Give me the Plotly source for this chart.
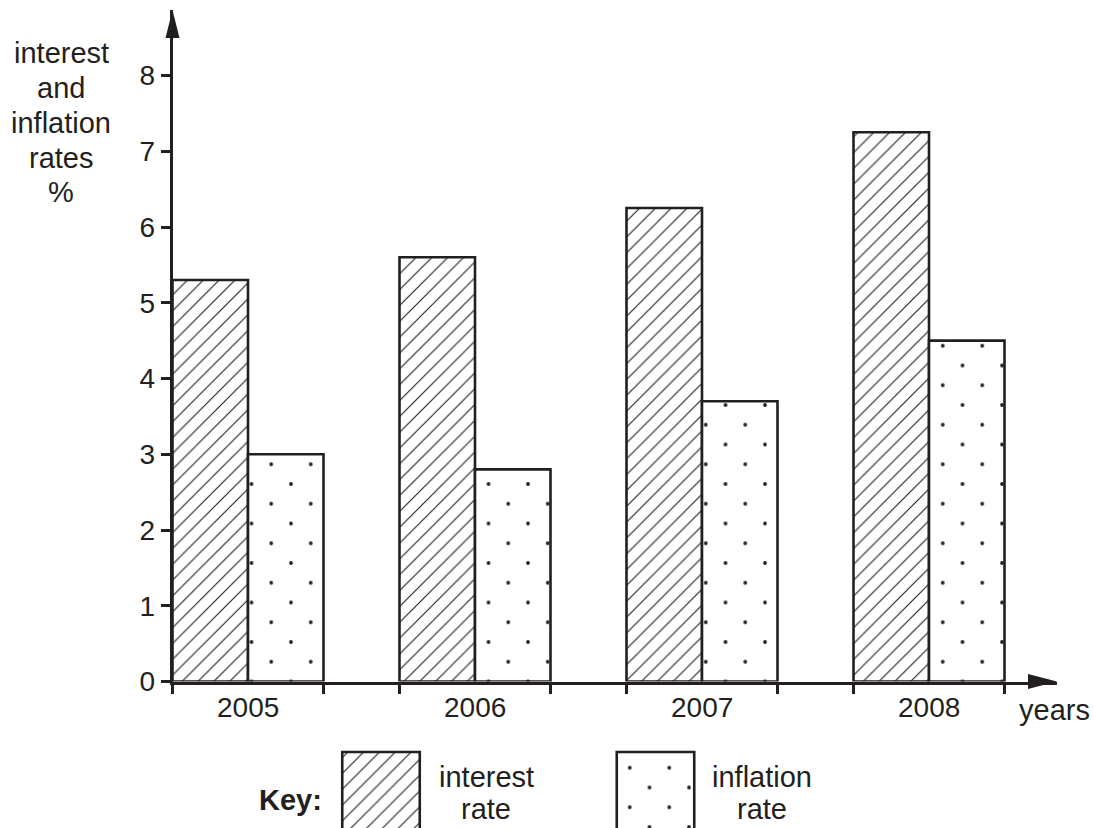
import plotly.graph_objects as go

# ---------------- data ----------------
years = [2005, 2006, 2007, 2008]
interest_rate = [5.3, 5.6, 6.25, 7.25]
inflation_rate = [3.0, 2.8, 3.7, 4.5]
y_ticks = [0, 1, 2, 3, 4, 5, 6, 7, 8]
key_height = [1]
key_labels = [["interest", "rate"], ["inflation", "rate"]]
y_title = ["interest", "and", "inflation", "rates", "%"]
x_title = "years"

# ---------------- style / geometry ----------------
# positions below are given in reference-picture pixels (1094 x 828);
# the page itself is 844 px tall because the photograph is squeezed to 828.
W, REF_H, PAGE_H = 1094, 828, 844
INK = "#231f20"
FONT = "Liberation Sans, Arial, Helvetica, sans-serif"
FS = 29        # words
FN = 28        # numbers
BW = 0.3326    # bar width in x units
LW = 2.6

def fx(p):
    return p / W

def fy(p):
    return 1 - p / REF_H

# main pixel mapping (reference pixels)
X0_V, X0_PX, X_K = years[0] - BW, 172.5, 227.0
Y0_V, Y0_PX, Y_K = 0.0, 681.5, 75.75
LEFT, RIGHT, TOP, BOTTOM = 172.5, 1057.0, 10.0, 681.5

def xr(pa, pb, v0, p0, k):
    return [v0 + (pa - p0) / k, v0 + (pb - p0) / k]

def yr(pt, pb, v0, p0, k):
    return [v0 - (pb - p0) / k, v0 - (pt - p0) / k]

DOT = 39.5
SH = DOT / 2
hatch = dict(shape="/", size=11.2, solidity=0.1, fgcolor=INK, bgcolor="white", fillmode="replace")
dots_a = dict(shape=".", size=DOT, solidity=0.007, fgcolor=INK, bgcolor="white", fillmode="replace")
dots_b = dict(shape=".", size=DOT, solidity=0.007, fgcolor=INK, bgcolor="rgba(0,0,0,0)", fillmode="replace")
outline = dict(color=INK, width=LW)
noline = dict(color="rgba(0,0,0,0)", width=0)

fig = go.Figure()

# main bars
fig.add_trace(go.Bar(x=years, y=interest_rate, width=BW, offset=-BW,
                     marker=dict(color="white", pattern=hatch, line=outline),
                     xaxis="x", yaxis="y", showlegend=False, hoverinfo="skip"))
fig.add_trace(go.Bar(x=years, y=inflation_rate, width=BW, offset=0,
                     marker=dict(color="white", pattern=dots_a, line=outline),
                     xaxis="x", yaxis="y", showlegend=False, hoverinfo="skip"))
# second, staggered dot grid (same bars drawn in an offset subplot)
fig.add_trace(go.Bar(x=years, y=inflation_rate, width=BW, offset=0,
                     marker=dict(color="rgba(0,0,0,0)", pattern=dots_b, line=noline),
                     xaxis="x3", yaxis="y3", showlegend=False, hoverinfo="skip"))

# key swatches
fig.add_trace(go.Bar(x=[0], y=key_height, width=1,
                     marker=dict(color="white", pattern=hatch, line=outline),
                     xaxis="x4", yaxis="y4", showlegend=False, hoverinfo="skip"))
fig.add_trace(go.Bar(x=[0], y=key_height, width=1,
                     marker=dict(color="white", pattern=dots_a, line=outline),
                     xaxis="x5", yaxis="y5", showlegend=False, hoverinfo="skip"))
fig.add_trace(go.Bar(x=[0], y=key_height, width=1,
                     marker=dict(color="rgba(0,0,0,0)", pattern=dots_b, line=noline),
                     xaxis="x6", yaxis="y6", showlegend=False, hoverinfo="skip"))

tickfont = dict(family=FONT, size=FN, color=INK)
hidden = dict(visible=False, showgrid=False, zeroline=False, fixedrange=True)

main_xrange = xr(LEFT, RIGHT, X0_V, X0_PX, X_K)
edges = [y - BW for y in years] + [y + BW for y in years]

# key mapping
KW, KH = 77.5, 80.0
K_TOP = 752.0
def key_axes(cx, pl, pr, pt, pb):
    xa = dict(hidden, domain=[fx(pl), fx(pr)], range=xr(pl, pr, 0.0, cx, KW))
    ya = dict(hidden, domain=[fy(pb), fy(pt)], range=yr(pt, pb, 0.0, K_TOP + KH, KH))
    return xa, ya

k1x, k1y = key_axes(381.0, 336.0, 426.0, 748.0, REF_H)
k2x, k2y = key_axes(655.5, 610.0, 701.0, 748.0, REF_H)
k3x, k3y = key_axes(655.5, 610.0 - SH, 701.0, 748.0 - SH, REF_H)

fig.update_layout(
    width=W, height=PAGE_H, autosize=False,
    margin=dict(l=0, r=0, t=0, b=0),
    paper_bgcolor="white", plot_bgcolor="rgba(0,0,0,0)",
    barmode="overlay", hovermode=False, showlegend=False,
    font=dict(family=FONT, size=FS, color=INK),
    xaxis=dict(domain=[fx(LEFT), fx(RIGHT)], range=main_xrange, anchor="y",
               showline=True, linewidth=LW, linecolor=INK,
               tickmode="array", tickvals=edges, ticktext=[""] * len(edges),
               ticks="outside", ticklen=10, tickwidth=LW, tickcolor=INK,
               showgrid=False, zeroline=False, fixedrange=True),
    yaxis=dict(domain=[fy(BOTTOM), fy(TOP)], range=yr(TOP, BOTTOM, Y0_V, Y0_PX, Y_K),
               anchor="x", showline=True, linewidth=LW, linecolor=INK,
               tickmode="array", tickvals=y_ticks, ticks="outside", ticklen=9,
               tickwidth=LW, tickcolor=INK, tickfont=tickfont,
               showgrid=False, zeroline=False, fixedrange=True),
    xaxis3=dict(hidden, anchor="y3", domain=[fx(LEFT + SH), fx(RIGHT + SH)],
                range=xr(LEFT + SH, RIGHT + SH, X0_V, X0_PX, X_K)),
    yaxis3=dict(hidden, anchor="x3", domain=[fy(BOTTOM + SH), fy(TOP + SH)],
                range=yr(TOP + SH, BOTTOM + SH, Y0_V, Y0_PX, Y_K)),
    xaxis4=dict(k1x, anchor="y4"), yaxis4=dict(k1y, anchor="x4"),
    xaxis5=dict(k2x, anchor="y5"), yaxis5=dict(k2y, anchor="x5"),
    xaxis6=dict(k3x, anchor="y6"), yaxis6=dict(k3y, anchor="x6"),
)

def tri(p1, p2, p3):
    pts = [p1, p2, p3]
    return "M " + " L ".join(f"{fx(a)},{fy(b)}" for a, b in pts) + " Z"

fig.add_shape(type="path", xref="paper", yref="paper",
              path=tri((LEFT, TOP), (LEFT - 7, TOP + 28), (LEFT + 7, TOP + 28)),
              fillcolor=INK, line=dict(width=0), layer="above")
fig.add_shape(type="path", xref="paper", yref="paper",
              path=tri((RIGHT, BOTTOM), (RIGHT - 29, BOTTOM - 7.5), (RIGHT - 29, BOTTOM + 7.5)),
              fillcolor=INK, line=dict(width=0), layer="above")

def label(text, x, y, bold=False, size=FS):
    fig.add_annotation(text=f"<b>{text}</b>" if bold else text,
                       x=fx(x), y=fy(y), xref="paper", yref="paper",
                       xanchor="center", yanchor="middle", align="center",
                       showarrow=False, font=dict(family=FONT, size=size, color=INK))

# year labels under each group (x in data units)
for yv in years:
    fig.add_annotation(text=str(yv), x=yv, y=fy(707), xref="x", yref="paper",
                       xanchor="center", yanchor="middle", showarrow=False,
                       font=dict(family=FONT, size=FN, color=INK))

for line, yc in zip(y_title, [53, 88, 123, 158, 192]):
    label(line, 61, yc)
label(x_title, 1054, 710)
label("Key:", 290, 800, bold=True)
for lines, xc in zip(key_labels, [486, 762]):
    label(lines[0], xc, 777)
    label(lines[1], xc, 809)

fig.write_html("out.html",
               config={"responsive": False, "displayModeBar": False},
               post_script="document.body.style.margin='0';document.body.style.overflow='hidden';")
